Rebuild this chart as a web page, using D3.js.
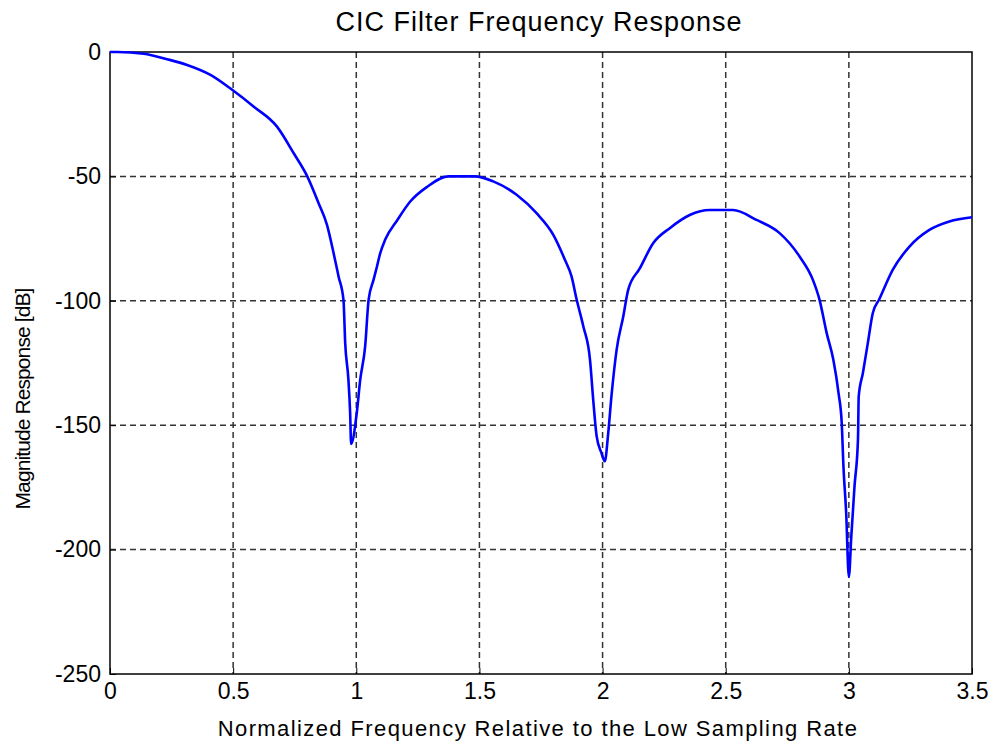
<!DOCTYPE html>
<html>
<head>
<meta charset="utf-8">
<script src="https://cdn.jsdelivr.net/npm/d3@7"></script>
<style>
  html, body { margin: 0; padding: 0; background: #fff; }
  text { font-family: "Liberation Sans", Arial, sans-serif; fill: #000; }
</style>
</head>
<body>
<div id="chart"></div>
<script>
// values
const freq = [0, 0.03, 0.137, 0.232, 0.313, 0.408, 0.496, 0.584, 0.678, 0.746, 0.80, 0.847, 0.881, 0.908, 0.928, 0.948,
  0.955, 0.968, 0.975, 0.979, 1.002, 1.016, 1.036, 1.05, 1.07, 1.084, 1.097, 1.117, 1.167, 1.219, 1.286, 1.374,
  1.482, 1.556, 1.651, 1.732, 1.8, 1.847, 1.874, 1.895, 1.922, 1.949, 1.962, 1.976, 1.995, 2.009, 2.023, 2.036,
  2.057, 2.084, 2.104, 2.151, 2.206, 2.273, 2.354, 2.435, 2.53, 2.625, 2.719, 2.8, 2.854, 2.881, 2.91, 2.937,
  2.958, 2.971, 2.978, 2.989, 3.0, 3.01, 3.023, 3.037, 3.04, 3.057, 3.077, 3.097, 3.124, 3.178, 3.246, 3.327,
  3.408, 3.5];
const magDb = [0, 0, -0.7, -2.9, -5.2, -9.2, -15.2, -22, -30, -40.7, -49.8, -60.8, -69.5, -80.9, -90.2, -99.7,
  -117, -131.7, -145, -157.5, -145, -131.7, -118.3, -99.6, -91.6, -86.2, -80.9, -75.5, -67.5, -60.1, -54.3, -50,
  -50, -52, -57.4, -64.8, -73.5, -83.5, -90.2, -99.6, -110.3, -123.7, -139.8, -154.5, -161, -164.5, -153.1, -138.4,
  -119.7, -106.3, -95.6, -87, -76.8, -70.8, -65.5, -63.5, -63.5, -67.5, -72.8, -82.2, -91.6, -99.6, -113, -123.7,
  -137, -149, -166.5, -185, -211, -194.6, -174.5, -155.8, -138.4, -129, -117, -105, -99.3, -87.6, -78.2, -71.5,
  -68.1, -66.4];
const xTicks = [0, 0.5, 1, 1.5, 2, 2.5, 3, 3.5];
const yTicks = [0, -50, -100, -150, -200, -250];

const W = 992, H = 744;
const m = { left: 110, right: 20, top: 52, bottom: 70 };

const svg = d3.select("#chart").append("svg")
  .attr("width", W).attr("height", H);

const x = d3.scaleLinear().domain([0, 3.5]).range([m.left, W - m.right]);
const y = d3.scaleLinear().domain([-250, 0]).range([H - m.bottom, m.top]);

// grid
const grid = svg.append("g")
  .attr("stroke", "#333").attr("stroke-width", 1.5).attr("stroke-dasharray", "6,4");
grid.selectAll(".gx").data(xTicks.slice(1, -1)).join("line")
  .attr("x1", d => x(d)).attr("x2", d => x(d))
  .attr("y1", y(0)).attr("y2", y(-250));
grid.selectAll(".gy").data(yTicks.slice(1, -1)).join("line")
  .attr("x1", x(0)).attr("x2", x(3.5))
  .attr("y1", d => y(d)).attr("y2", d => y(d));

// axes (inward ticks, matlab style), plain hyphen for negatives
const fmt = d => String(d);
const xAxis = svg.append("g").attr("transform", `translate(0,${y(-250)})`)
  .call(d3.axisBottom(x).tickValues(xTicks).tickSizeInner(-6).tickSizeOuter(0).tickFormat(fmt));
const yAxis = svg.append("g").attr("transform", `translate(${x(0)},0)`)
  .call(d3.axisLeft(y).tickValues(yTicks).tickSizeInner(-6).tickSizeOuter(0).tickFormat(fmt));
[xAxis, yAxis].forEach(a => {
  a.select(".domain").remove();
  a.selectAll("line").attr("stroke", "#000");
  a.selectAll("text").style("font-size", "23px")
    .style("font-family", "'Liberation Sans', Arial, sans-serif");
});
xAxis.selectAll("text").attr("dy", "1em").attr("y", 2);
yAxis.selectAll("text").attr("x", -9);

// box
svg.append("rect")
  .attr("x", x(0)).attr("y", y(0))
  .attr("width", x(3.5) - x(0)).attr("height", y(-250) - y(0))
  .attr("fill", "none").attr("stroke", "#000").attr("stroke-width", 1.5);

// curve
const pts = freq.map((f, i) => [f, magDb[i]]);
svg.append("path")
  .datum(pts)
  .attr("fill", "none")
  .attr("stroke", "#0000ff")
  .attr("stroke-width", 2.6)
  .attr("stroke-linejoin", "round")
  .attr("d", d3.line().x(d => x(d[0])).y(d => y(d[1])).curve(d3.curveMonotoneX));

// titles
svg.append("text")
  .attr("x", 539).attr("y", 31)
  .attr("text-anchor", "middle").style("font-size", "27px").style("letter-spacing", "1px")
  .text("CIC Filter Frequency Response");
svg.append("text")
  .attr("x", 538).attr("y", 736)
  .attr("text-anchor", "middle").style("font-size", "22px").style("letter-spacing", "1.4px")
  .text("Normalized Frequency Relative to the Low Sampling Rate");
svg.append("text")
  .attr("transform", `translate(30,399) rotate(-90)`)
  .attr("text-anchor", "middle").style("font-size", "21px").style("letter-spacing", "-0.9px")
  .text("Magnitude Response [dB]");
</script>
</body>
</html>
